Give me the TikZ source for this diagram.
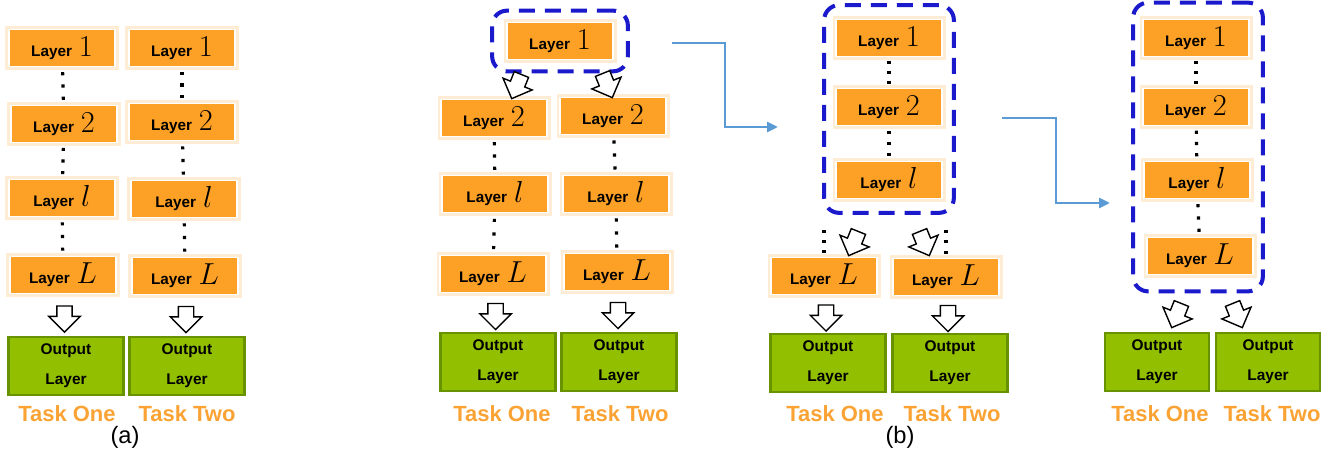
\documentclass[tikz,border=0pt]{standalone}
\usepackage{fontspec}
\setsansfont{Liberation Sans}
\usetikzlibrary{arrows.meta,shapes.arrows,fit,calc,decorations.markings}
\definecolor{layorange}{RGB}{253,160,38}
\definecolor{outgreen}{RGB}{146,192,0}
\definecolor{outedge}{RGB}{104,146,0}
\definecolor{taskorange}{RGB}{250,163,52}
\definecolor{grpblue}{RGB}{26,26,204}
\definecolor{flowblue}{RGB}{91,155,213}
\newcommand{\lay}[1]{\textbf{Layer}\hspace{0.45em}{\fontsize{16}{16}\selectfont$#1$}}
\newcommand{\outtxt}{Output\\Layer}

\begin{document}
\begin{tikzpicture}[x=0.02cm, y=-0.02cm,
    layer/.style={draw=white, line width=1pt, fill=layorange, minimum width=2.12cm, minimum height=0.74cm, inner sep=0pt, font=\sffamily\fontsize{8.7}{10}\selectfont, preaction={draw=layorange!20, line width=4pt}},
    outbox/.style={draw=outedge, line width=1.2pt, fill=outgreen, minimum width=2.3cm, minimum height=1.16cm, inner sep=0pt, align=center, font=\sffamily\bfseries\fontsize{8.8}{17}\selectfont},
    task/.style={text=taskorange, font=\sffamily\bfseries\fontsize{12.5}{14}\selectfont},
    blk/.style={single arrow, draw, fill=white, line width=0.8pt, inner sep=0.14cm, minimum height=0.52cm, single arrow head extend=0.16cm, shape border rotate=270},
    grp/.style={draw=grpblue, line width=2.3pt, dash pattern=on 0.32cm off 0.2cm, rounded corners=0.3cm},
    flow/.style={draw=flowblue, line width=1.6pt, -{Triangle[length=0.22cm,width=0.2cm]}},
    dots3/.style={postaction={decorate}, decoration={markings,
        mark=at position 0.17 with {\fill (-0.9pt,-0.9pt) rectangle (0.9pt,0.9pt);},
        mark=at position 0.5 with {\fill (-0.9pt,-0.9pt) rectangle (0.9pt,0.9pt);},
        mark=at position 0.83 with {\fill (-0.9pt,-0.9pt) rectangle (0.9pt,0.9pt);}}}]
    \useasboundingbox (0,0) rectangle (1328,455);

    % (a) two separate networks
    \node[layer] (a1L1) at (62,48) {\lay{1}};
    \node[layer] (a2L1) at (182,48) {\lay{1}};
    \node[layer] (a1L2) at (64,124) {\lay{2}};
    \node[layer] (a2L2) at (182,122) {\lay{2}};
    \node[layer] (a1Ll) at (62,198) {\lay{l}};
    \node[layer] (a2Ll) at (184,199) {\lay{l}};
    \node[layer] (a1LL) at (63,275) {\lay{L}};
    \node[layer] (a2LL) at (185,276) {\lay{L}};
    \node[outbox] (a1O) at (66,366) {\outtxt};
    \node[outbox] (a2O) at (187,366) {\outtxt};
    \node[task] (a1T) at (67,414) {Task One};
    \node[task] (a2T) at (187,414) {Task Two};
    \node[font=\sffamily\fontsize{13.5}{15}\selectfont] (capA) at (125,437) {(a)};

    \path[dots3] (a1L1) -- (a1L2);
    \path[dots3] (a1L2) -- (a1Ll);
    \path[dots3] (a1Ll) -- (a1LL);
    \path[dots3] (a2L1) -- (a2L2);
    \path[dots3] (a2L2) -- (a2Ll);
    \path[dots3] (a2Ll) -- (a2LL);
    \node[blk] (a1A) at ($(a1LL.south)!0.5!(a1O.north)$) {};
    \node[blk] (a2A) at ($(a2LL.south)!0.5!(a2O.north)$) {};

    % (b) first layer shared
    \node[layer] (bL1) at (560,41) {\lay{1}};
    \node[layer] (b1L2) at (494,118) {\lay{2}};
    \node[layer] (b2L2) at (613,116) {\lay{2}};
    \node[layer] (b1Ll) at (495,194) {\lay{l}};
    \node[layer] (b2Ll) at (616,194) {\lay{l}};
    \node[layer] (b1LL) at (493,274) {\lay{L}};
    \node[layer] (b2LL) at (617,272) {\lay{L}};
    \node[outbox] (b1O) at (498,362) {\outtxt};
    \node[outbox] (b2O) at (619,362) {\outtxt};
    \node[task] (b1T) at (502,414) {Task One};
    \node[task] (b2T) at (620,414) {Task Two};
    \node[grp, fit=(bL1), inner xsep=0.28cm, inner ysep=0.22cm] (g1) {};

    \node[blk, rotate=-22] (b1S) at (518,83) {};
    \node[blk, rotate=22] (b2S) at (606,82) {};
    \path[dots3] (b1L2) -- (b1Ll);
    \path[dots3] (b1Ll) -- (b1LL);
    \path[dots3] (b2L2) -- (b2Ll);
    \path[dots3] (b2Ll) -- (b2LL);
    \node[blk] (b1A) at ($(b1LL.south)!0.5!(b1O.north)$) {};
    \node[blk] (b2A) at ($(b2LL.south)!0.5!(b2O.north)$) {};

    % (b) first l layers shared
    \node[layer] (cL1) at (889,38) {\lay{1}};
    \node[layer] (cL2) at (889,107) {\lay{2}};
    \node[layer] (cLl) at (889,180) {\lay{l}};
    \node[layer] (c1LL) at (824,276) {\lay{L}};
    \node[layer] (c2LL) at (946,277) {\lay{L}};
    \node[outbox] (c1O) at (828,363) {\outtxt};
    \node[outbox] (c2O) at (950,363) {\outtxt};
    \node[task] (c1T) at (835,414) {Task One};
    \node[task] (c2T) at (952,414) {Task Two};
    \node[font=\sffamily\fontsize{13.5}{15}\selectfont] (capB) at (900,437) {(b)};
    \node[grp, fit=(cL1)(cLl), inner xsep=0.22cm, inner ysep=0.27cm] (g2) {};

    \path[dots3] (cL1) -- (cL2);
    \path[dots3] (cL2) -- (cLl);
    \coordinate (c1D) at (824,226);
    \coordinate (c2D) at (946,226);
    \path[dots3] (c1D) -- (c1LL);
    \path[dots3] (c2D) -- (c2LL);
    \node[blk, rotate=-22] (c1S) at (855,240) {};
    \node[blk, rotate=22] (c2S) at (923,240) {};
    \node[blk] (c1A) at ($(c1LL.south)!0.5!(c1O.north)$) {};
    \node[blk] (c2A) at ($(c2LL.south)!0.5!(c2O.north)$) {};

    % (b) all layers shared
    \node[layer] (dL1) at (1196,38) {\lay{1}};
    \node[layer] (dL2) at (1196,107) {\lay{2}};
    \node[layer] (dLl) at (1197,180) {\lay{l}};
    \node[layer] (dLL) at (1200,256) {\lay{L}};
    \node[outbox, minimum width=2.08cm] (d1O) at (1157,362) {\outtxt};
    \node[outbox, minimum width=2.08cm] (d2O) at (1268,362) {\outtxt};
    \node[task] (d1T) at (1160,414) {Task One};
    \node[task] (d2T) at (1272,414) {Task Two};
    \node[grp, fit=(dL1)(dLL), inner xsep=0.18cm, inner ysep=0.32cm] (g3) {};

    \path[dots3] (dL1) -- (dL2);
    \path[dots3] (dL2) -- (dLl);
    \path[dots3] (dLl) -- (dLL);
    \node[blk, rotate=-22] (d1S) at (1178,312) {};
    \node[blk, rotate=22] (d2S) at (1236,312) {};

    % steps
    \coordinate (f1s) at (672,43);
    \coordinate (f1e) at (778,127);
    \draw[flow] (f1s) -| ($(f1s)!0.5!(f1e)$) |- (f1e);
    \coordinate (f2s) at (1002,118);
    \coordinate (f2e) at (1110,203);
    \draw[flow] (f2s) -| ($(f2s)!0.5!(f2e)$) |- (f2e);
\end{tikzpicture}
\end{document}
